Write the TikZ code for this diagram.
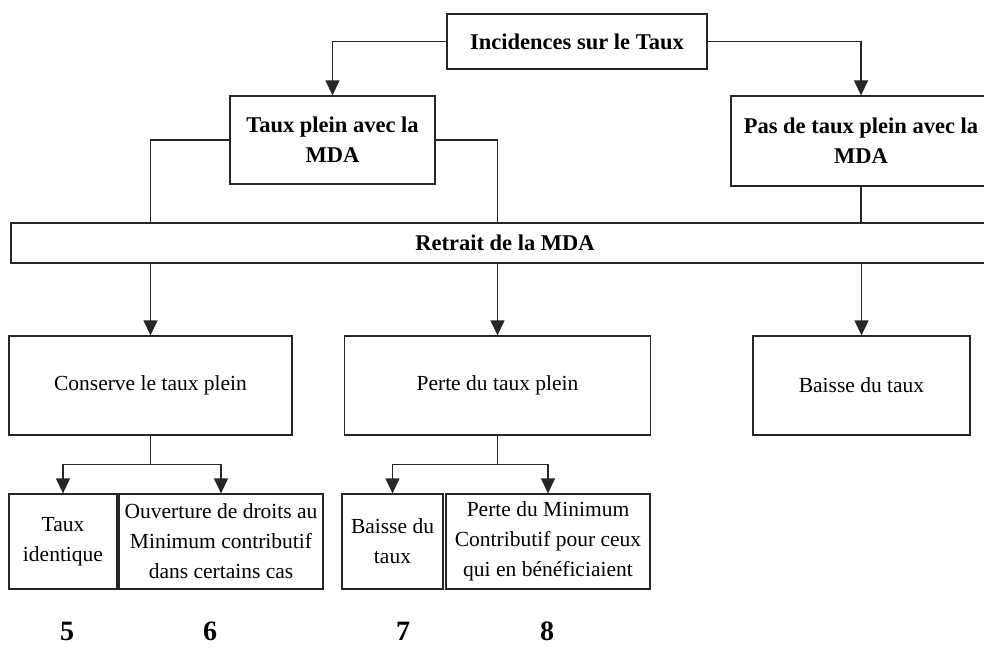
\documentclass[tikz,border=0pt]{standalone}
\usepackage{fontspec}
\setmainfont{Liberation Serif}
\usetikzlibrary{arrows.meta,calc}
\tikzset{
  box/.style={draw=black!85, line width=1.3pt, rectangle, inner sep=0pt, align=center, fill=white},
  reg/.style={font=\fontsize{21.5}{30}\selectfont},
  bld/.style={font=\fontsize{22.5}{30}\selectfont\bfseries},
  num/.style={font=\fontsize{28}{30}\selectfont\bfseries, inner sep=0pt, anchor=north},
  link/.style={draw=black!85, line width=1.3pt},
  arr/.style={link, -{Triangle[length=15pt,width=14pt]}}
}
\begin{document}
\begin{tikzpicture}[x=1pt,y=-1pt]
\useasboundingbox (0,0) rectangle (984,650);
\fill[white] (0,0) rectangle (984,650);
% nodes
\node[box,bld,minimum width=260pt,minimum height=55pt] (top) at (577,41.5) {Incidences sur le Taux};
\node[box,bld,minimum width=205pt,minimum height=88pt] (tp) at (332.5,140) {Taux plein avec la\\MDA};
\node[box,bld,minimum width=260pt,minimum height=90pt] (pt) at (861,141) {Pas de taux plein avec la\\MDA};
\node[box,bld,minimum width=988pt,minimum height=40pt] (ret) at (505,243) {Retrait de la MDA};
\node[box,reg,minimum width=283pt,minimum height=99pt] (cons) at (150.5,385.5) {Conserve le taux plein};
\node[box,reg,minimum width=306pt,minimum height=99pt] (perte) at (497.5,385.5) {Perte du taux plein};
\node[box,reg,minimum width=217pt,minimum height=99pt] (baisse) at (861.5,385.5) {Baisse du taux};
\node[box,reg,minimum width=108pt,minimum height=95pt] (ti) at (63,541.5) {Taux\\identique};
\node[box,reg,minimum width=204pt,minimum height=95pt] (ouv) at (221,541.5) {Ouverture de droits au\\Minimum contributif\\dans certains cas};
\node[box,reg,minimum width=101pt,minimum height=95pt] (bd) at (392.5,541.5) {Baisse du\\taux};
\node[box,reg,minimum width=204pt,minimum height=95pt] (pm) at (548,541.5) {Perte du Minimum\\Contributif pour ceux\\qui en bénéficiaient};
\node[num] (n5) at (67,622) {5};
\node[num] (n6) at (210,622) {6};
\node[num] (n7) at (403,622) {7};
\node[num] (n8) at (547,622) {8};
% connectors
\draw[arr] (top.west) -| (tp.north);
\draw[arr] (top.east) -| (pt.north);
\draw[link] (tp.west) -| (ret.north -| cons.north);
\draw[link] (tp.east) -| (ret.north -| perte.north);
\draw[link] (pt.south) -- (pt.south |- ret.north);
\draw[arr] (ret.south -| cons.north) -- (cons.north);
\draw[arr] (ret.south -| perte.north) -- (perte.north);
\draw[arr] (ret.south -| baisse.north) -- (baisse.north);
\coordinate (j1) at ($(cons.south)+(0,29)$);
\coordinate (j2) at ($(perte.south)+(0,29)$);
\draw[link] (cons.south) -- (j1);
\draw[arr] (j1) -| (ti.north);
\draw[arr] (j1) -| (ouv.north);
\draw[link] (perte.south) -- (j2);
\draw[arr] (j2) -| (bd.north);
\draw[arr] (j2) -| (pm.north);
\end{tikzpicture}
\end{document}
